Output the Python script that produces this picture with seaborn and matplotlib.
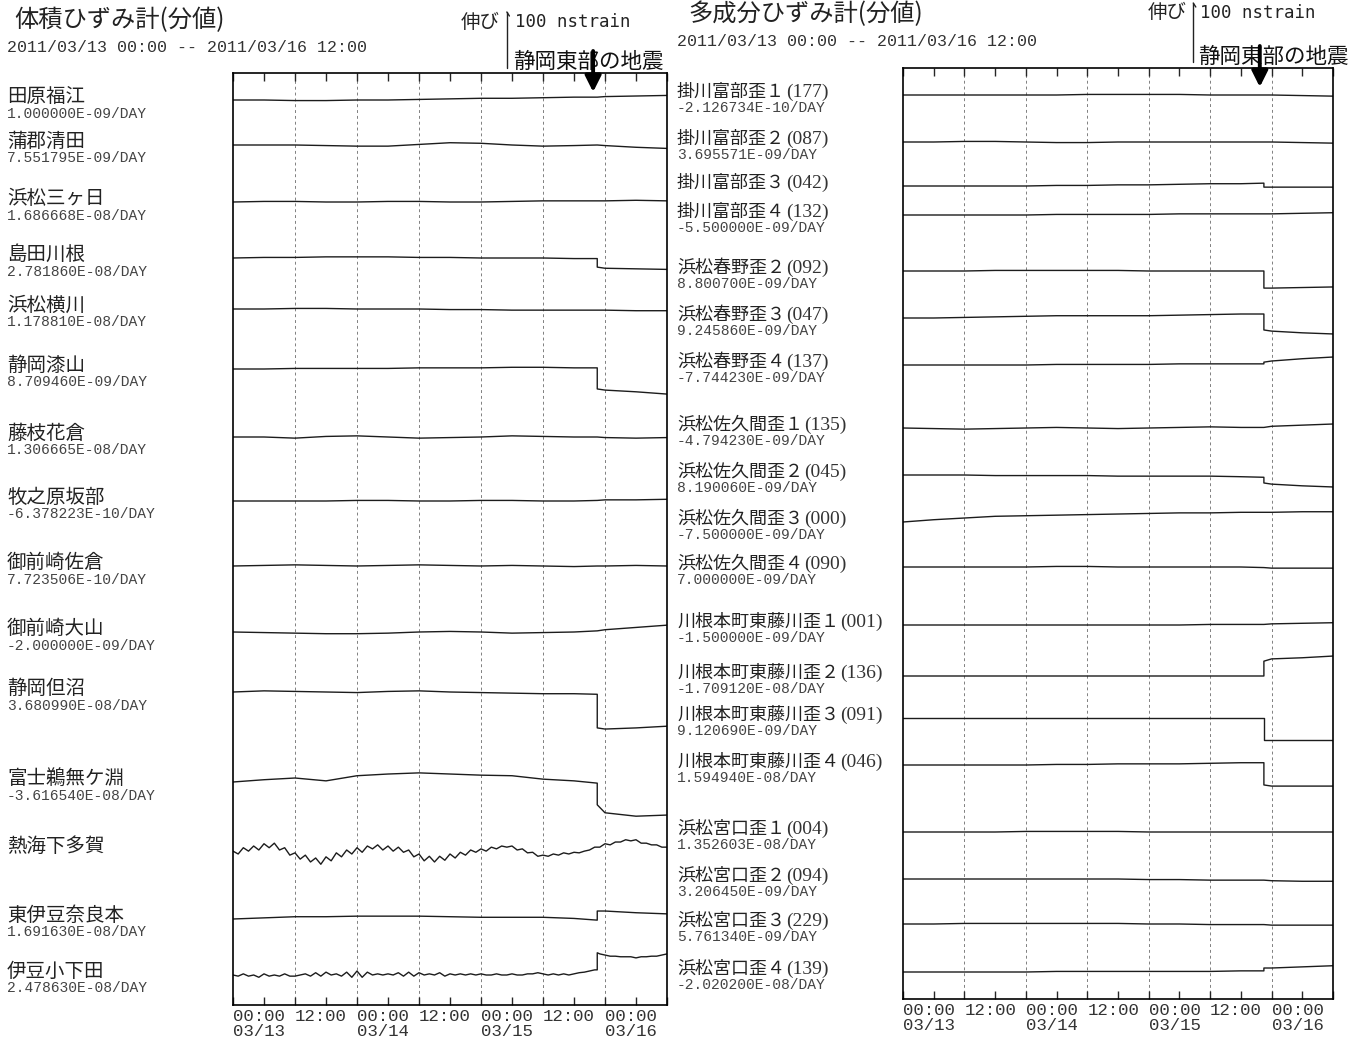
import matplotlib
matplotlib.use('Agg')
import matplotlib.pyplot as plt
import matplotlib.transforms as mtransforms
from matplotlib.text import Annotation
import pandas as pd
import seaborn as sns

# hours since 2011/03/13 00:00 -- the quake step sits at 70.5 h (03/15 22:31)
hours_coarse = [0, 6, 12, 18, 24, 30, 36, 42, 48, 54, 60, 66, 70.5, 70.5, 72, 78, 84]
hours_fine = list(range(0, 71)) + [70.5, 70.5] + list(range(71, 85))

# ---- volumetric strainmeters (nstrain, extension positive) ----
left_names = ['田原福江', '蒲郡清田', '浜松三ヶ日', '島田川根', '浜松横川', '静岡漆山',
              '藤枝花倉', '牧之原坂部', '御前崎佐倉', '御前崎大山', '静岡但沼',
              '富士鵜無ケ淵', '熱海下多賀', '東伊豆奈良本', '伊豆小下田']
left_rates = ['1.000000E-09/DAY', '7.551795E-09/DAY', '1.686668E-08/DAY',
              '2.781860E-08/DAY', '1.178810E-08/DAY', '8.709460E-09/DAY',
              '1.306665E-08/DAY', '-6.378223E-10/DAY', '7.723506E-10/DAY',
              '-2.000000E-09/DAY', '3.680990E-08/DAY', '-3.616540E-08/DAY', '',
              '1.691630E-08/DAY', '2.478630E-08/DAY']

tahara_fukue = [0, 0, -1, -1, 0, 0, 1, 2, 3, 3, 4, 5, 5, 5, 6, 7, 8]
gamagori_kiyota = [0, 0, 0, -1, -2, -2, 1, 4, 3, 0, -2, -1, 0, 0, -1, -4, -6]
hamamatsu_mikkabi = [0, 1, 1, 0, 0, 1, 1, 0, 0, 1, 2, 2, 2, 2, 2, 3, 2]
shimada_kawane = [0, 1, 1, 2, 2, 2, 1, 1, 0, 0, 0, -1, -1, -16, -18, -19, -20]
hamamatsu_yokokawa = [0, 0, 1, 1, 0, 0, 0, -1, -1, -2, -2, -2, -2, -2, -2, -3, -3]
shizuoka_urushiyama = [0, 0, 1, 1, 1, 1, 2, 2, 2, 3, 3, 2, 2, -35, -37, -40, -44]
fujieda_hanakura = [0, 0, -2, 1, 2, 0, -2, -1, 0, 2, 1, 0, 0, 0, -1, -2, -1]
makinohara_sakabe = [0, 0, 0, 0, 1, 1, 0, 0, 1, 1, 0, 0, 1, 1, 2, 2, 3]
omaezaki_sakura = [0, 1, 2, 1, 0, 1, 2, 1, 0, 1, 0, -1, 0, 0, 0, 1, 0]
omaezaki_oyama = [0, -1, -2, -3, -3, -2, 0, 1, 0, -2, -1, 0, 2, 2, 4, 8, 12]
shizuoka_tadanuma = [0, 2, 1, 0, -1, 1, 2, 0, -1, -2, -3, -3, -4, -63, -65, -63, -60]
fuji_unogafuchi = [0, 4, 7, 2, 11, 14, 16, 14, 12, 11, 5, 2, -2, -40, -54, -60, -58]
atami_shimotaga = [-2, -7, 4, -2, 7, 0, 11, 4, 12, 0,
                   4, -9, -5, -16, -9, -21, -14, -25, -12, -19,
                   -5, -12, 0, -7, 4, -4, 7, 2, 9, 0,
                   7, -2, 5, -4, 0, -12, -7, -19, -11, -21,
                   -11, -18, -7, -14, -4, -9, 0, -4, 2, -2,
                   5, 2, 7, 5, 7, 0, 2, -5, -4, -11,
                   -9, -11, -7, -9, -5, -7, -4, -5, -2, 0,
                   5, 5, 5,
                   5, 11, 9, 14, 14, 18, 16, 18, 12, 12, 9, 9, 5, 5]
higashiizu_naramoto = [0, 2, 4, 4, 5, 5, 5, 4, 3, 3, 3, 1, -2, 14, 14, 11, 9]
izu_koshimoda = [0, -2, 2, -2, 0, -4, 2, -2, 0, -2,
                 2, -2, -2, 0, 2, -2, 4, -2, 5, 0,
                 2, -2, 5, -4, 7, -4, 5, 0, 2, 0,
                 2, 0, 4, -2, 5, -2, 4, 0, 2, 0,
                 4, -2, 2, 0, 2, 0, 2, 0, 2, 0,
                 0, 2, 0, 0, 2, 0, 0, 2, 2, 4,
                 2, 0, 2, 0, 2, 0, 2, 4, 5, 7,
                 9, 9, 39,
                 37, 35, 33, 33, 32, 32, 32, 30, 32, 32, 33, 33, 35, 37]

left_series = [tahara_fukue, gamagori_kiyota, hamamatsu_mikkabi, shimada_kawane,
               hamamatsu_yokokawa, shizuoka_urushiyama, fujieda_hanakura,
               makinohara_sakabe, omaezaki_sakura, omaezaki_oyama,
               shizuoka_tadanuma, fuji_unogafuchi, atami_shimotaga,
               higashiizu_naramoto, izu_koshimoda]

# ---- multi-component strainmeters ----
right_names = ['掛川富部歪１', '掛川富部歪２', '掛川富部歪３', '掛川富部歪４',
               '浜松春野歪２', '浜松春野歪３', '浜松春野歪４',
               '浜松佐久間歪１', '浜松佐久間歪２', '浜松佐久間歪３', '浜松佐久間歪４',
               '川根本町東藤川歪１', '川根本町東藤川歪２', '川根本町東藤川歪３',
               '川根本町東藤川歪４', '浜松宮口歪１', '浜松宮口歪２', '浜松宮口歪３',
               '浜松宮口歪４']
right_codes = ['(177)', '(087)', '(042)', '(132)', '(092)', '(047)', '(137)',
               '(135)', '(045)', '(000)', '(090)', '(001)', '(136)', '(091)',
               '(046)', '(004)', '(094)', '(229)', '(139)']
right_rates = ['-2.126734E-10/DAY', '3.695571E-09/DAY', '', '-5.500000E-09/DAY',
               '8.800700E-09/DAY', '9.245860E-09/DAY', '-7.744230E-09/DAY',
               '-4.794230E-09/DAY', '8.190060E-09/DAY', '-7.500000E-09/DAY',
               '7.000000E-09/DAY', '-1.500000E-09/DAY', '-1.709120E-08/DAY',
               '9.120690E-09/DAY', '1.594940E-08/DAY', '1.352603E-08/DAY',
               '3.206450E-09/DAY', '5.761340E-09/DAY', '-2.020200E-08/DAY']

kakegawa_tobe1 = [0, 0, 0, 0, 0, 0, 1, 1, 1, 1, 0, 0, 0, 0, 0, -1, -2]
kakegawa_tobe2 = [0, 0, 1, 1, 0, -1, -1, 0, 0, 0, 0, 0, 0, 0, 0, -1, -2]
kakegawa_tobe3 = [0, 0, 0, 0, 0, 1, 1, 2, 2, 3, 4, 4, 5, -2, -2, -2, -2]
kakegawa_tobe4 = [0, 0, 0, 0, 0, 1, 1, 1, 1, 2, 2, 2, 2, 2, 2, 3, 4]
haruno2 = [0, 0, 0, 1, 1, 1, 1, 1, 0, 0, 0, 0, 0, -30, -30, -29, -28]
haruno3 = [0, 0, 1, 2, 3, 4, 4, 4, 4, 5, 6, 7, 7, -21, -23, -26, -28]
haruno4 = [0, 0, 0, 0, 0, 1, 1, 1, 1, 2, 2, 2, 2, 5, 7, 11, 14]
sakuma1 = [0, -1, -2, -1, 0, 1, 0, -1, 0, 1, 2, 1, 1, 1, 3, 5, 7]
sakuma2 = [0, 0, 0, -1, -1, -1, -1, -2, -2, -2, -2, -3, -4, -14, -16, -19, -21]
sakuma3 = [0, 4, 7, 10, 11, 12, 13, 14, 15, 16, 16, 17, 17, 17, 17, 18, 18]
sakuma4 = [0, 0, 0, 0, 0, 1, 1, 0, 0, 0, 0, 0, -1, -1, -2, -2, -2]
fujikawa1 = [0, 0, 0, 0, 0, 0, 0, 0, 0, 0, 1, 1, 1, 1, 2, 3, 4]
fujikawa2 = [0, 0, 0, 0, 0, 0, 0, 0, 0, 0, 0, 0, 0, 26, 30, 32, 35]
fujikawa3 = [0, 0, 0, 0, 0, 0, 0, 0, 0, 0, 0, 0, 0, -38, -38, -38, -38]
fujikawa4 = [0, 0, 0, 0, 0, 1, 1, 2, 2, 2, 3, 4, 4, -35, -37, -37, -37]
miyaguchi1 = [0, 0, 0, 0, 1, 1, 1, 1, 0, 0, 0, 0, 0, 0, 0, 0, 0]
miyaguchi2 = [0, 0, 0, 0, 0, 0, 0, 0, -1, -1, -2, -2, -2, -2, -3, -4, -4]
miyaguchi3 = [0, 0, 1, 1, 1, 1, 1, 1, 0, 0, -1, -1, -1, -1, -2, -2, -2]
miyaguchi4 = [0, 0, 0, 0, 0, 1, 1, 1, 1, 1, 1, 2, 2, 7, 7, 9, 11]

right_series = [kakegawa_tobe1, kakegawa_tobe2, kakegawa_tobe3, kakegawa_tobe4,
                haruno2, haruno3, haruno4, sakuma1, sakuma2, sakuma3, sakuma4,
                fujikawa1, fujikawa2, fujikawa3, fujikawa4,
                miyaguchi1, miyaguchi2, miyaguchi3, miyaguchi4]

tick_hours = list(range(0, 85, 6))
tick_labels = ['00:00\n03/13', '', '12:00', '', '00:00\n03/14', '', '12:00', '',
               '00:00\n03/15', '', '12:00', '', '00:00\n03/16', '', '']

# ---- layout (pixels) ----
W, H = 1364, 1048
PX_PER_NS = 0.57          # 100 nstrain bar is ~57 px tall
left_rows = [27, 72, 129, 185, 236, 296, 364, 428, 493, 559, 619, 709, 777, 846, 902]
right_rows = [27, 74, 118, 147, 203, 250, 297, 360, 407, 454, 499, 557, 608, 650,
              697, 764, 811, 856, 904]

sns.set_style('white')
plt.rcParams['font.family'] = ['Noto Sans CJK JP', 'DejaVu Sans']

fig = plt.figure(figsize=(W / 100, H / 100), dpi=100)


def box(x0, y0, x1, y1):
    return [x0 / W, 1 - y1 / H, (x1 - x0) / W, (y1 - y0) / H]


def draw_panel(ax, height, names, series, rows):
    frames = []
    for name, vals, row in zip(names, series, rows):
        hours = hours_coarse if len(vals) == len(hours_coarse) else hours_fine
        frames.append(pd.DataFrame({
            'hour': hours,
            'pos': [row - v * PX_PER_NS for v in vals],
            'station': name,
        }))
    df = pd.concat(frames, ignore_index=True)
    sns.lineplot(data=df, x='hour', y='pos', units='station', estimator=None,
                 sort=False, color='#1c1c1c', linewidth=1.0, legend=False, ax=ax)
    for h in range(12, 84, 12):
        ax.axvline(h, color='#808080', lw=0.7, ls=(0, (3, 3)), zorder=0)
    ax.set_xlim(0, 84)
    ax.set_ylim(height, 0)
    ax.set_yticks([])
    ax.set_xticks(tick_hours)
    ax.set_xticklabels(tick_labels, family='Liberation Mono', fontsize=12.5,
                       ha='left', linespacing=0.95, color='#333333')
    ax.tick_params(axis='x', direction='in', length=6, width=1.0,
                   top=True, bottom=True, pad=3)
    ax.set_xlabel('')
    ax.set_ylabel('')
    for sp in ax.spines.values():
        sp.set_color('black')
        sp.set_linewidth(1.2)


def draw_labels(ax, x_px, names, rates, rows, name_size, codes=None):
    trans = mtransforms.blended_transform_factory(fig.transFigure, ax.transData)
    for i, (name, rate, row) in enumerate(zip(names, rates, rows)):
        txt = fig.text(x_px / W, row - 3.5, name, transform=trans, va='center',
                       ha='left', fontsize=name_size, color='#222222')
        if codes is not None:
            ann = Annotation(codes[i], xy=(1, 0.45), xycoords=txt,
                             xytext=(1, 0), textcoords='offset points',
                             va='center', ha='left', fontsize=14,
                             family='Liberation Serif', color='#333333')
            ann.set_zorder(-1)
            fig.add_artist(ann)
        if rate:
            fig.text(x_px / W, row + 13.5, rate, transform=trans, va='center',
                     ha='left', fontsize=10.5, family='Liberation Mono',
                     color='#444444')


def draw_scale(ax, bar_h, bar_top, bar_bot, stretch_h, nstrain_h, quake_h, arrow):
    ax.plot([bar_h, bar_h], [bar_top, bar_bot], color='#222222', lw=1.0, clip_on=False)
    ax.plot([bar_h, bar_h + 0.5], [bar_top, bar_top + 4], color='#222222', lw=1.0,
            clip_on=False)
    ax.text(stretch_h, bar_top + 10, '伸び', ha='right', va='center', fontsize=14,
            color='#222222', clip_on=False)
    ax.text(nstrain_h, bar_top + 10, '100 nstrain', ha='left', va='center',
            fontsize=12.5, family='DejaVu Sans Mono', color='#222222', clip_on=False)
    ax.text(quake_h, -11, '静岡東部の地震', ha='left', va='center', fontsize=15.5,
            color='#111111', clip_on=False)
    ax.annotate('', xy=(arrow, 19), xytext=(arrow, -22), annotation_clip=False,
                arrowprops=dict(arrowstyle='-|>', lw=2.8, mutation_scale=24,
                                color='black', shrinkA=0, shrinkB=0))


# left panel
ax_l = fig.add_axes(box(233, 73, 667, 1005))
draw_panel(ax_l, 932, left_names, left_series, left_rows)
draw_labels(ax_l, 7, left_names, left_rates, left_rows, 14)
draw_scale(ax_l, 53.0, -61, -5, 51.7, 54.6, 54.2, 69.7)

# right panel
ax_r = fig.add_axes(box(903, 68, 1333, 999))
draw_panel(ax_r, 931, right_names, right_series, right_rows)
draw_labels(ax_r, 677, right_names, right_rates, right_rows, 13, right_codes)
draw_scale(ax_r, 56.7, -65, -6, 55.4, 58.0, 57.6, 69.7)

# titles
fig.text(14 / W, 1 - 20 / H, '体積ひずみ計(分値)', fontsize=17.5, va='center',
         ha='left', color='#222222')
fig.text(7 / W, 1 - 47 / H, '2011/03/13 00:00 -- 2011/03/16 12:00', fontsize=12,
         family='Liberation Mono', va='center', ha='left', color='#333333')
fig.text(688 / W, 1 - 14 / H, '多成分ひずみ計(分値)', fontsize=17.5, va='center',
         ha='left', color='#222222')
fig.text(677 / W, 1 - 42 / H, '2011/03/13 00:00 -- 2011/03/16 12:00', fontsize=12,
         family='Liberation Mono', va='center', ha='left', color='#333333')

fig.savefig('out.png', dpi=100, facecolor='white')
